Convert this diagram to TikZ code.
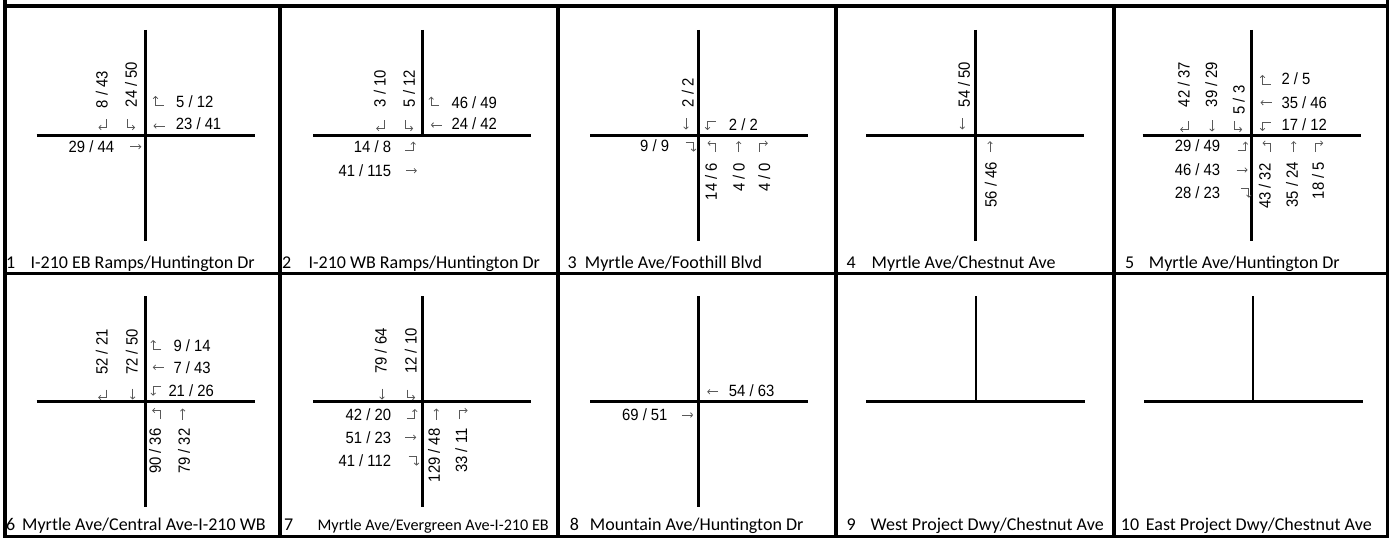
\documentclass[tikz,border=0pt]{standalone}
\usepackage{fontspec}
\setmainfont{Carlito}
\newfontfamily\numfont[FakeStretch=0.91]{Liberation Sans}
\usetikzlibrary{arrows.meta}
\tikzset{
  num/.style={font=\numfont\fontsize{16.3}{18}\selectfont, inner sep=0pt},
  lw/.style={num, anchor=base west},
  le/.style={num, anchor=base east},
  sbtxt/.style={num, rotate=90, anchor=west},
  nbtxt/.style={num, rotate=90, anchor=east},
  captxt/.style={font=\fontsize{18}{20}\selectfont, inner sep=0pt, anchor=base west},
  captsmall/.style={font=\fontsize{16.2}{18}\selectfont, inner sep=0pt, anchor=base west},
  road/.style={line width=2.7pt},
  border/.style={line width=3.3pt},
  mvarr/.style={draw=black!65, line width=0.75pt, -{Straight Barb[length=2.2pt,width=4.6pt]}},
  sbr/.pic={\draw[mvarr] (3.5,-4.5) -- (3.5,3.5) -- (-4.5,3.5);},
  sbl/.pic={\draw[mvarr] (-3.5,-4.5) -- (-3.5,3.5) -- (4.5,3.5);},
  sbt/.pic={\draw[mvarr] (0,-5.5) -- (0,5.5);},
  wbr/.pic={\draw[mvarr] (4.5,4) -- (-3.5,4) -- (-3.5,-5);},
  wbt/.pic={\draw[mvarr] (5.5,0) -- (-5.5,0);},
  wbl/.pic={\draw[mvarr] (4.5,-4) -- (-3.5,-4) -- (-3.5,5);},
  ebl/.pic={\draw[mvarr] (-4.5,4) -- (3.5,4) -- (3.5,-5);},
  ebt/.pic={\draw[mvarr] (-5.5,0) -- (5.5,0);},
  ebr/.pic={\draw[mvarr] (-4.5,-4) -- (3.5,-4) -- (3.5,5);},
  nbl/.pic={\draw[mvarr] (3.5,5) -- (3.5,-3.5) -- (-4.5,-3.5);},
  nbt/.pic={\draw[mvarr] (0,5.5) -- (0,-5.5);},
  nbr/.pic={\draw[mvarr] (-3.5,5) -- (-3.5,-3.5) -- (4.5,-3.5);},
}
\begin{document}
\begin{tikzpicture}[x=1pt,y=-1pt]
\useasboundingbox (0,0) rectangle (1394,540);
% table borders
\draw[border] (5,0) -- (5,536.5) -- (1387.7,536.5) -- (1387.7,0);
\draw[border] (5,6) -- (1387.7,6);
\draw[border] (5,273.7) -- (1387.7,273.7);
\foreach \cx in {280,558,836,1114} \draw[border] (\cx,6) -- (\cx,536.5);

% ---------- roads ----------
\draw[road] (145.3,30) -- (145.3,240.7);   \draw[road] (36.7,135.3) -- (255,135.3);
\draw[road] (422.3,30) -- (422.3,135.3);   \draw[road] (313,135.3) -- (530.7,135.3);
\draw[road] (698.7,30) -- (698.7,240.7);   \draw[road] (590,135.3) -- (807.7,135.3);
\draw[road] (975.7,30) -- (975.7,240.7);   \draw[road] (866,135.3) -- (1084,135.3);
\draw[road] (1251.3,30) -- (1251.3,240.7); \draw[road] (1142.7,135.3) -- (1361.3,135.3);
\draw[road] (145.3,296) -- (145.3,506.7);  \draw[road] (36.7,401.7) -- (255,401.7);
\draw[road] (422.3,296) -- (422.3,506.7);  \draw[road] (313,401.7) -- (530.7,401.7);
\draw[road] (698.7,296) -- (698.7,506.7);  \draw[road] (590,401.7) -- (807.7,401.7);
\draw[road] (976,296) -- (976,401.7);      \draw[road] (866,401.7) -- (1085,401.7);
\draw[road] (1253,296) -- (1253,401.7);    \draw[road] (1144,401.7) -- (1363,401.7);

% ---------- cell 1 ----------
\node[sbtxt] (a1) at (101.7,108.3) {8 / 43};
\node[sbtxt] (a2) at (131,107.3) {24 / 50};
\pic at (103,124) {sbr}; \pic at (130.5,124) {sbl};
\pic at (159,101) {wbr}; \node[lw] (a3) at (176,107.3) {5 / 12};
\pic at (159,126) {wbt}; \node[lw] (a4) at (175.7,130) {23 / 41};
\pic at (135.8,146.7) {ebt}; \node[le] (a5) at (114.3,152.7) {29 / 44};

% ---------- cell 2 ----------
\node[sbtxt] (b1) at (379.7,107.3) {3 / 10};
\node[sbtxt] (b2) at (409,107.3) {5 / 12};
\pic at (380.7,125) {sbr}; \pic at (408.7,125) {sbl};
\pic at (434.7,101.7) {wbr}; \node[lw] (b3) at (451.3,108.3) {46 / 49};
\pic at (436.3,125) {wbt}; \node[lw] (b4) at (451.3,130) {24 / 42};
\pic at (409.7,146.7) {ebl}; \node[le] (b5) at (391.3,152.7) {14 / 8};
\pic at (411.3,170.7) {ebt}; \node[le] (b6) at (391.3,176.7) {41 / 115};

% ---------- cell 3 ----------
\node[sbtxt] (c1) at (687.7,107.3) {2 / 2};
\pic at (686,124) {sbt};
\pic at (711,125) {wbl}; \node[lw] (c2) at (728.7,130.7) {2 / 2};
\pic at (690,146.7) {ebr}; \node[le] (c3) at (669.3,151.7) {9 / 9};
\pic at (712,146.7) {nbl}; \pic at (738.7,146.7) {nbt}; \pic at (763.3,146.7) {nbr};
\node[nbtxt] (c4) at (711,162.7) {14 / 6};
\node[nbtxt] (c5) at (738.7,162.7) {4 / 0};
\node[nbtxt] (c6) at (764.3,162.7) {4 / 0};

% ---------- cell 4 ----------
\node[sbtxt] (d1) at (964,107.3) {54 / 50};
\pic at (962.3,124) {sbt};
\pic at (990,146.7) {nbt};
\node[nbtxt] (d2) at (990.7,161.7) {56 / 46};

% ---------- cell 5 ----------
\node[sbtxt] (e1) at (1183.7,107.3) {42 / 37};
\node[sbtxt] (e2) at (1211.3,107.3) {39 / 29};
\node[num, rotate=90] (e3) at (1238.7,100) {5 / 3};
\pic at (1184.7,126) {sbr}; \pic at (1212,126) {sbt}; \pic at (1237.7,126) {sbl};
\pic at (1266,80) {wbr}; \node[lw] (e4) at (1281.3,85) {2 / 5};
\pic at (1266,102.7) {wbt}; \node[lw] (e5) at (1281.3,108.3) {35 / 46};
\pic at (1266,126) {wbl}; \node[lw] (e6) at (1281.3,130.7) {17 / 12};
\pic at (1242,146.7) {ebl}; \node[le] (e7) at (1220.3,151.7) {29 / 49};
\pic at (1242,170) {ebt}; \node[le] (e8) at (1220.3,176) {46 / 43};
\pic at (1245.3,192.7) {ebr}; \node[le] (e9) at (1220.3,198.3) {28 / 23};
\pic at (1267,146.7) {nbl}; \pic at (1293.7,146.7) {nbt}; \pic at (1318.7,146.7) {nbr};
\node[nbtxt] (e10) at (1264.7,163.3) {43 / 32};
\node[nbtxt] (e11) at (1292,161.7) {35 / 24};
\node[nbtxt] (e12) at (1318,161.7) {18 / 5};

% ---------- cell 6 ----------
\node[sbtxt] (f1) at (101.7,375) {52 / 21};
\node[sbtxt] (f2) at (131.7,375) {72 / 50};
\pic at (102.7,394) {sbr}; \pic at (132.7,394) {sbt};
\pic at (156.7,345) {wbr}; \node[lw] (f3) at (173.3,351.7) {9 / 14};
\pic at (158.3,367.3) {wbt}; \node[lw] (f4) at (173.3,373.3) {7 / 43};
\pic at (156.7,390.7) {wbl}; \node[lw] (f5) at (168.3,396.7) {21 / 26};
\pic at (156.7,414) {nbl}; \pic at (182.7,414) {nbt};
\node[nbtxt] (f6) at (155,428.3) {90 / 36};
\node[nbtxt] (f7) at (184,428.3) {79 / 32};

% ---------- cell 7 ----------
\node[sbtxt] (g1) at (380.7,374) {79 / 64};
\node[sbtxt] (g2) at (410.7,374) {12 / 10};
\pic at (382,394) {sbt}; \pic at (410.7,394) {sbl};
\pic at (411.3,414) {ebl}; \node[le] (g3) at (391.3,420) {42 / 20};
\pic at (410.7,437.3) {ebt}; \node[le] (g4) at (391.3,443.3) {51 / 23};
\pic at (413,460.7) {ebr}; \node[le] (g5) at (391.3,466) {41 / 112};
\pic at (436.3,414) {nbt}; \pic at (463,414) {nbr};
\node[nbtxt] (g6) at (434,428.3) {129 / 48};
\node[nbtxt] (g7) at (461.3,428.3) {33 / 11};

% ---------- cell 8 ----------
\pic at (712.7,391.7) {wbt}; \node[lw] (h1) at (728.7,396.7) {54 / 63};
\pic at (687.7,415) {ebt}; \node[le] (h2) at (667.7,420) {69 / 51};

% ---------- captions ----------
\node[captxt] (n1) at (6,268) {1};    \node[captxt] (t1) at (30.4,268) {I-210 EB Ramps/Huntington Dr};
\node[captxt] (n2) at (282,268) {2};  \node[captxt] (t2) at (308.4,268) {I-210 WB Ramps/Huntington Dr};
\node[captxt] (n3) at (567.4,268) {3}; \node[captxt] (t3) at (584.7,268) {Myrtle Ave/Foothill Blvd};
\node[captxt] (n4) at (846.5,268) {4};  \node[captxt] (t4) at (871.5,268) {Myrtle Ave/Chestnut Ave};
\node[captxt] (n5) at (1125,268) {5}; \node[captxt] (t5) at (1148.7,268) {Myrtle Ave/Huntington Dr};
\node[captxt] (n6) at (6,530) {6};    \node[captxt] (t6) at (22,530) {Myrtle Ave/Central Ave-I-210 WB};
\node[captxt] (n7) at (284,530) {7};  \node[captsmall] (t7) at (317.4,530) {Myrtle Ave/Evergreen Ave-I-210 EB};
\node[captxt] (n8) at (569.7,530) {8}; \node[captxt] (t8) at (589.7,530) {Mountain Ave/Huntington Dr};
\node[captxt] (n9) at (846.4,530) {9}; \node[captxt] (t9) at (870.5,530) {West Project Dwy/Chestnut Ave};
\node[captxt] (n10) at (1120.7,530) {10}; \node[captxt] (t10) at (1145.7,530) {East Project Dwy/Chestnut Ave};
\end{tikzpicture}
\end{document}
